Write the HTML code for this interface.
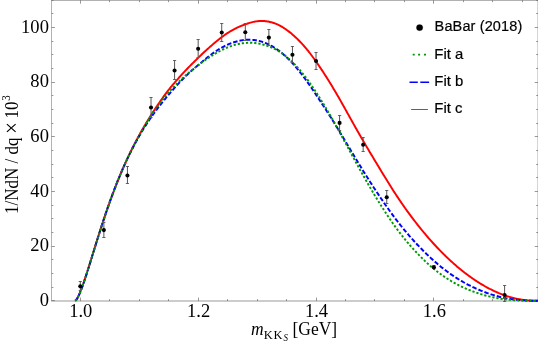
<!DOCTYPE html>
<html><head><meta charset="utf-8"><title>Chart</title>
<style>html,body{margin:0;padding:0;background:#fff;}body{width:538px;height:343px;overflow:hidden;font-family:"Liberation Serif",serif;}svg{display:block;}</style>
</head><body>
<svg width="538" height="343" viewBox="0 0 538 343">
<defs><clipPath id="c"><rect x="51" y="0" width="487" height="302.2"/></clipPath><mask id="m" maskUnits="userSpaceOnUse" x="0" y="0" width="538" height="343"><rect width="538" height="343" fill="#fff"/></mask></defs>
<rect width="538" height="343" fill="#fff"/>
<g stroke="#666" stroke-width="0.67" fill="none">
<path d="M51.5,0.28 L538.1,0.28 M51.5,301.0 L538.1,301.0 M538.1,-0.019999999999999962 L538.1,301.33"/>
<path d="M51.5,-0.019999999999999962 L51.5,301.33" stroke-width="0.5"/>
<path d="M51.5,300.50 h3.4 M538.1,300.50 h-3.4 M51.5,287.50 h1.9 M538.1,287.50 h-1.9 M51.5,273.50 h1.9 M538.1,273.50 h-1.9 M51.5,259.50 h1.9 M538.1,259.50 h-1.9 M51.5,246.50 h3.4 M538.1,246.50 h-3.4 M51.5,232.50 h1.9 M538.1,232.50 h-1.9 M51.5,218.50 h1.9 M538.1,218.50 h-1.9 M51.5,205.50 h1.9 M538.1,205.50 h-1.9 M51.5,191.50 h3.4 M538.1,191.50 h-3.4 M51.5,177.50 h1.9 M538.1,177.50 h-1.9 M51.5,164.50 h1.9 M538.1,164.50 h-1.9 M51.5,150.50 h1.9 M538.1,150.50 h-1.9 M51.5,136.50 h3.4 M538.1,136.50 h-3.4 M51.5,123.50 h1.9 M538.1,123.50 h-1.9 M51.5,109.50 h1.9 M538.1,109.50 h-1.9 M51.5,95.50 h1.9 M538.1,95.50 h-1.9 M51.5,82.50 h3.4 M538.1,82.50 h-3.4 M51.5,68.50 h1.9 M538.1,68.50 h-1.9 M51.5,54.50 h1.9 M538.1,54.50 h-1.9 M51.5,41.50 h1.9 M538.1,41.50 h-1.9 M51.5,27.50 h3.4 M538.1,27.50 h-3.4 M51.5,13.50 h1.9 M538.1,13.50 h-1.9 M51.5,0.50 h1.9 M538.1,0.50 h-1.9 M80.50,301.0 v-3.4 M80.50,0.28 v3.4 M109.50,301.0 v-1.9 M109.50,0.28 v1.9 M139.50,301.0 v-1.9 M139.50,0.28 v1.9 M168.50,301.0 v-1.9 M168.50,0.28 v1.9 M198.50,301.0 v-3.4 M198.50,0.28 v3.4 M227.50,301.0 v-1.9 M227.50,0.28 v1.9 M257.50,301.0 v-1.9 M257.50,0.28 v1.9 M286.50,301.0 v-1.9 M286.50,0.28 v1.9 M316.50,301.0 v-3.4 M316.50,0.28 v3.4 M345.50,301.0 v-1.9 M345.50,0.28 v1.9 M374.50,301.0 v-1.9 M374.50,0.28 v1.9 M404.50,301.0 v-1.9 M404.50,0.28 v1.9 M433.50,301.0 v-3.4 M433.50,0.28 v3.4 M463.50,301.0 v-1.9 M463.50,0.28 v1.9 M492.50,301.0 v-1.9 M492.50,0.28 v1.9 M522.50,301.0 v-1.9 M522.50,0.28 v1.9"/>
</g>
<g clip-path="url(#c)" fill="none" stroke-linecap="butt" stroke-linejoin="round">
<path d="M75.20,300.80 L76.13,300.05 L77.06,298.72 L77.98,297.05 L78.91,295.11 L79.84,292.97 L80.77,290.66 L81.70,288.22 L82.62,285.67 L83.55,283.02 L84.48,280.29 L85.41,277.50 L86.34,274.65 L87.26,271.76 L88.19,268.84 L89.12,265.89 L90.05,262.92 L90.98,259.93 L91.91,256.94 L92.83,253.95 L93.76,250.95 L94.69,247.96 L95.62,244.98 L96.55,242.01 L97.47,239.05 L98.40,236.11 L99.33,233.19 L100.26,230.29 L101.19,227.41 L102.11,224.56 L103.04,221.74 L103.97,218.94 L104.90,216.17 L105.83,213.43 L106.75,210.71 L107.68,208.03 L108.61,205.38 L109.54,202.76 L110.47,200.18 L111.39,197.62 L112.32,195.10 L113.25,192.61 L114.18,190.15 L115.11,187.72 L116.03,185.33 L116.96,182.97 L117.89,180.64 L118.82,178.35 L119.75,176.08 L120.67,173.85 L121.60,171.65 L122.53,169.48 L123.46,167.34 L124.39,165.23 L125.32,163.14 L126.24,161.09 L127.17,159.07 L128.10,157.08 L129.03,155.11 L129.96,153.17 L130.88,151.26 L131.81,149.37 L132.74,147.51 L133.67,145.68 L134.60,143.87 L135.52,142.08 L136.45,140.32 L137.38,138.59 L138.31,136.87 L139.24,135.18 L140.16,133.50 L141.09,131.85 L142.02,130.21 L142.95,128.59 L143.88,126.99 L144.80,125.41 L145.73,123.84 L146.66,122.28 L147.59,120.74 L148.52,119.22 L149.44,117.71 L150.37,116.22 L151.30,114.75 L152.23,113.29 L153.16,111.85 L154.08,110.43 L155.01,109.02 L155.94,107.62 L156.87,106.24 L157.80,104.87 L158.73,103.52 L159.65,102.18 L160.58,100.84 L161.51,99.52 L162.44,98.22 L163.37,96.92 L164.29,95.63 L165.22,94.36 L166.15,93.11 L167.08,91.88 L168.01,90.66 L168.93,89.48 L169.86,88.32 L170.79,87.18 L171.72,86.05 L172.65,84.95 L173.57,83.86 L174.50,82.77 L175.43,81.70 L176.36,80.63 L177.29,79.58 L178.21,78.53 L179.14,77.49 L180.07,76.46 L181.00,75.44 L181.93,74.43 L182.85,73.42 L183.78,72.42 L184.71,71.43 L185.64,70.45 L186.57,69.48 L187.49,68.51 L188.42,67.55 L189.35,66.60 L190.28,65.66 L191.21,64.73 L192.14,63.80 L193.06,62.87 L193.99,61.95 L194.92,61.04 L195.85,60.12 L196.78,59.21 L197.70,58.30 L198.63,57.39 L199.56,56.49 L200.49,55.60 L201.42,54.71 L202.34,53.82 L203.27,52.95 L204.20,52.08 L205.13,51.22 L206.06,50.37 L206.98,49.52 L207.91,48.69 L208.84,47.86 L209.77,47.04 L210.70,46.22 L211.62,45.41 L212.55,44.62 L213.48,43.83 L214.41,43.04 L215.34,42.26 L216.26,41.49 L217.19,40.72 L218.12,39.96 L219.05,39.21 L219.98,38.47 L220.90,37.74 L221.83,37.03 L222.76,36.35 L223.69,35.68 L224.62,35.03 L225.55,34.39 L226.47,33.78 L227.40,33.18 L228.33,32.59 L229.26,32.02 L230.19,31.46 L231.11,30.91 L232.04,30.38 L232.97,29.86 L233.90,29.35 L234.83,28.86 L235.75,28.38 L236.68,27.92 L237.61,27.47 L238.54,27.04 L239.47,26.63 L240.39,26.23 L241.32,25.85 L242.25,25.48 L243.18,25.13 L244.11,24.78 L245.03,24.44 L245.96,24.11 L246.89,23.79 L247.82,23.47 L248.75,23.17 L249.67,22.89 L250.60,22.62 L251.53,22.37 L252.46,22.14 L253.39,21.92 L254.31,21.73 L255.24,21.56 L256.17,21.41 L257.10,21.28 L258.03,21.17 L258.96,21.09 L259.88,21.03 L260.81,20.99 L261.74,20.98 L262.67,20.99 L263.60,21.03 L264.52,21.09 L265.45,21.18 L266.38,21.28 L267.31,21.42 L268.24,21.57 L269.16,21.75 L270.09,21.95 L271.02,22.18 L271.95,22.43 L272.88,22.71 L273.80,23.01 L274.73,23.33 L275.66,23.68 L276.59,24.06 L277.52,24.47 L278.44,24.90 L279.37,25.36 L280.30,25.85 L281.23,26.36 L282.16,26.91 L283.08,27.47 L284.01,28.07 L284.94,28.69 L285.87,29.33 L286.80,29.99 L287.72,30.67 L288.65,31.38 L289.58,32.11 L290.51,32.86 L291.44,33.62 L292.37,34.41 L293.29,35.22 L294.22,36.05 L295.15,36.91 L296.08,37.78 L297.01,38.67 L297.93,39.57 L298.86,40.50 L299.79,41.46 L300.72,42.43 L301.65,43.41 L302.57,44.42 L303.50,45.44 L304.43,46.49 L305.36,47.55 L306.29,48.64 L307.21,49.76 L308.14,50.90 L309.07,52.06 L310.00,53.25 L310.93,54.48 L311.85,55.73 L312.78,56.99 L313.71,58.27 L314.64,59.56 L315.57,60.87 L316.49,62.18 L317.42,63.51 L318.35,64.86 L319.28,66.22 L320.21,67.59 L321.13,68.98 L322.06,70.38 L322.99,71.79 L323.92,73.22 L324.85,74.67 L325.78,76.12 L326.70,77.59 L327.63,79.07 L328.56,80.56 L329.49,82.06 L330.42,83.56 L331.34,85.07 L332.27,86.59 L333.20,88.13 L334.13,89.67 L335.06,91.23 L335.98,92.81 L336.91,94.39 L337.84,96.00 L338.77,97.61 L339.70,99.23 L340.62,100.87 L341.55,102.51 L342.48,104.16 L343.41,105.81 L344.34,107.48 L345.26,109.14 L346.19,110.81 L347.12,112.48 L348.05,114.15 L348.98,115.81 L349.90,117.48 L350.83,119.15 L351.76,120.81 L352.69,122.47 L353.62,124.13 L354.54,125.77 L355.47,127.42 L356.40,129.06 L357.33,130.70 L358.26,132.32 L359.19,133.94 L360.11,135.56 L361.04,137.17 L361.97,138.77 L362.90,140.37 L363.83,141.96 L364.75,143.54 L365.68,145.12 L366.61,146.70 L367.54,148.27 L368.47,149.84 L369.39,151.40 L370.32,152.96 L371.25,154.52 L372.18,156.07 L373.11,157.62 L374.03,159.16 L374.96,160.71 L375.89,162.25 L376.82,163.78 L377.75,165.32 L378.67,166.85 L379.60,168.38 L380.53,169.91 L381.46,171.45 L382.39,172.97 L383.31,174.50 L384.24,176.02 L385.17,177.54 L386.10,179.05 L387.03,180.56 L387.95,182.06 L388.88,183.56 L389.81,185.05 L390.74,186.53 L391.67,188.00 L392.60,189.47 L393.52,190.92 L394.45,192.36 L395.38,193.79 L396.31,195.21 L397.24,196.62 L398.16,198.01 L399.09,199.39 L400.02,200.76 L400.95,202.12 L401.88,203.47 L402.80,204.81 L403.73,206.14 L404.66,207.45 L405.59,208.76 L406.52,210.06 L407.44,211.34 L408.37,212.62 L409.30,213.89 L410.23,215.14 L411.16,216.39 L412.08,217.63 L413.01,218.85 L413.94,220.07 L414.87,221.28 L415.80,222.48 L416.72,223.67 L417.65,224.85 L418.58,226.02 L419.51,227.19 L420.44,228.34 L421.36,229.49 L422.29,230.62 L423.22,231.75 L424.15,232.87 L425.08,233.97 L426.01,235.07 L426.93,236.16 L427.86,237.24 L428.79,238.30 L429.72,239.36 L430.65,240.41 L431.57,241.45 L432.50,242.48 L433.43,243.50 L434.36,244.51 L435.29,245.52 L436.21,246.51 L437.14,247.50 L438.07,248.47 L439.00,249.44 L439.93,250.40 L440.85,251.35 L441.78,252.29 L442.71,253.22 L443.64,254.14 L444.57,255.06 L445.49,255.96 L446.42,256.86 L447.35,257.75 L448.28,258.63 L449.21,259.50 L450.13,260.36 L451.06,261.21 L451.99,262.06 L452.92,262.89 L453.85,263.72 L454.77,264.54 L455.70,265.35 L456.63,266.15 L457.56,266.94 L458.49,267.73 L459.42,268.50 L460.34,269.26 L461.27,270.01 L462.20,270.75 L463.13,271.49 L464.06,272.21 L464.98,272.92 L465.91,273.63 L466.84,274.33 L467.77,275.02 L468.70,275.70 L469.62,276.37 L470.55,277.04 L471.48,277.70 L472.41,278.34 L473.34,278.98 L474.26,279.62 L475.19,280.24 L476.12,280.86 L477.05,281.46 L477.98,282.06 L478.90,282.65 L479.83,283.23 L480.76,283.80 L481.69,284.36 L482.62,284.91 L483.54,285.45 L484.47,285.99 L485.40,286.51 L486.33,287.03 L487.26,287.53 L488.18,288.03 L489.11,288.52 L490.04,289.00 L490.97,289.47 L491.90,289.93 L492.83,290.38 L493.75,290.83 L494.68,291.26 L495.61,291.69 L496.54,292.10 L497.47,292.51 L498.39,292.91 L499.32,293.29 L500.25,293.67 L501.18,294.04 L502.11,294.40 L503.03,294.75 L503.96,295.09 L504.89,295.42 L505.82,295.74 L506.75,296.05 L507.67,296.35 L508.60,296.64 L509.53,296.91 L510.46,297.18 L511.39,297.44 L512.31,297.69 L513.24,297.93 L514.17,298.16 L515.10,298.38 L516.03,298.59 L516.95,298.79 L517.88,298.97 L518.81,299.15 L519.74,299.32 L520.67,299.48 L521.59,299.63 L522.52,299.76 L523.45,299.89 L524.38,300.01 L525.31,300.12 L526.24,300.22 L527.16,300.32 L528.09,300.40 L529.02,300.47 L529.95,300.54 L530.88,300.60 L531.80,300.65 L532.73,300.69 L533.66,300.72 L534.59,300.75 L535.52,300.77 L536.44,300.79 L537.37,300.80 L538.30,300.80" stroke="#f00" stroke-width="1.95"/>
<path d="M75.20,300.80 L76.13,300.08 L77.06,298.78 L77.98,297.13 L78.91,295.23 L79.84,293.12 L80.77,290.84 L81.70,288.41 L82.62,285.87 L83.55,283.23 L84.48,280.51 L85.41,277.72 L86.34,274.86 L87.26,271.96 L88.19,269.02 L89.12,266.05 L90.05,263.06 L90.98,260.05 L91.91,257.03 L92.83,254.00 L93.76,250.98 L94.69,247.96 L95.62,244.94 L96.55,241.94 L97.47,238.95 L98.40,235.98 L99.33,233.03 L100.26,230.10 L101.19,227.19 L102.11,224.32 L103.04,221.47 L103.97,218.64 L104.90,215.85 L105.83,213.09 L106.75,210.37 L107.68,207.67 L108.61,205.02 L109.54,202.39 L110.47,199.80 L111.39,197.25 L112.32,194.73 L113.25,192.24 L114.18,189.79 L115.11,187.38 L116.03,185.00 L116.96,182.66 L117.89,180.36 L118.82,178.08 L119.75,175.85 L120.67,173.64 L121.60,171.48 L122.53,169.34 L123.46,167.24 L124.39,165.17 L125.32,163.13 L126.24,161.13 L127.17,159.15 L128.10,157.21 L129.03,155.30 L129.96,153.41 L130.88,151.56 L131.81,149.73 L132.74,147.93 L133.67,146.16 L134.60,144.41 L135.52,142.70 L136.45,141.00 L137.38,139.33 L138.31,137.69 L139.24,136.07 L140.16,134.48 L141.09,132.91 L142.02,131.36 L142.95,129.84 L143.88,128.34 L144.80,126.86 L145.73,125.41 L146.66,123.98 L147.59,122.56 L148.52,121.17 L149.44,119.80 L150.37,118.44 L151.30,117.10 L152.23,115.78 L153.16,114.47 L154.08,113.18 L155.01,111.91 L155.94,110.64 L156.87,109.40 L157.80,108.17 L158.73,106.95 L159.65,105.75 L160.58,104.56 L161.51,103.38 L162.44,102.22 L163.37,101.07 L164.29,99.93 L165.22,98.80 L166.15,97.68 L167.08,96.57 L168.01,95.46 L168.93,94.36 L169.86,93.27 L170.79,92.19 L171.72,91.12 L172.65,90.06 L173.57,89.01 L174.50,87.97 L175.43,86.94 L176.36,85.92 L177.29,84.92 L178.21,83.92 L179.14,82.94 L180.07,81.96 L181.00,81.00 L181.93,80.04 L182.85,79.10 L183.78,78.16 L184.71,77.23 L185.64,76.32 L186.57,75.41 L187.49,74.51 L188.42,73.62 L189.35,72.75 L190.28,71.89 L191.21,71.04 L192.14,70.20 L193.06,69.39 L193.99,68.59 L194.92,67.80 L195.85,67.02 L196.78,66.25 L197.70,65.49 L198.63,64.71 L199.56,63.94 L200.49,63.17 L201.42,62.41 L202.34,61.63 L203.27,60.86 L204.20,60.09 L205.13,59.33 L206.06,58.57 L206.98,57.82 L207.91,57.07 L208.84,56.34 L209.77,55.62 L210.70,54.91 L211.62,54.21 L212.55,53.53 L213.48,52.86 L214.41,52.21 L215.34,51.57 L216.26,50.94 L217.19,50.33 L218.12,49.74 L219.05,49.16 L219.98,48.60 L220.90,48.06 L221.83,47.53 L222.76,47.03 L223.69,46.54 L224.62,46.06 L225.55,45.61 L226.47,45.17 L227.40,44.75 L228.33,44.35 L229.26,43.96 L230.19,43.59 L231.11,43.24 L232.04,42.90 L232.97,42.58 L233.90,42.27 L234.83,41.98 L235.75,41.70 L236.68,41.45 L237.61,41.20 L238.54,40.98 L239.47,40.77 L240.39,40.58 L241.32,40.41 L242.25,40.25 L243.18,40.11 L244.11,40.00 L245.03,39.90 L245.96,39.82 L246.89,39.77 L247.82,39.73 L248.75,39.71 L249.67,39.72 L250.60,39.74 L251.53,39.78 L252.46,39.85 L253.39,39.93 L254.31,40.04 L255.24,40.17 L256.17,40.32 L257.10,40.49 L258.03,40.68 L258.96,40.89 L259.88,41.13 L260.81,41.38 L261.74,41.66 L262.67,41.96 L263.60,42.28 L264.52,42.63 L265.45,42.99 L266.38,43.38 L267.31,43.79 L268.24,44.22 L269.16,44.67 L270.09,45.15 L271.02,45.64 L271.95,46.16 L272.88,46.70 L273.80,47.26 L274.73,47.85 L275.66,48.46 L276.59,49.09 L277.52,49.74 L278.44,50.41 L279.37,51.10 L280.30,51.82 L281.23,52.56 L282.16,53.32 L283.08,54.10 L284.01,54.90 L284.94,55.73 L285.87,56.57 L286.80,57.44 L287.72,58.33 L288.65,59.24 L289.58,60.17 L290.51,61.13 L291.44,62.10 L292.37,63.10 L293.29,64.12 L294.22,65.16 L295.15,66.23 L296.08,67.31 L297.01,68.42 L297.93,69.54 L298.86,70.69 L299.79,71.86 L300.72,73.04 L301.65,74.25 L302.57,75.47 L303.50,76.70 L304.43,77.95 L305.36,79.22 L306.29,80.50 L307.21,81.79 L308.14,83.10 L309.07,84.42 L310.00,85.75 L310.93,87.10 L311.85,88.46 L312.78,89.82 L313.71,91.20 L314.64,92.59 L315.57,93.99 L316.49,95.39 L317.42,96.80 L318.35,98.21 L319.28,99.62 L320.21,101.03 L321.13,102.45 L322.06,103.87 L322.99,105.29 L323.92,106.72 L324.85,108.15 L325.78,109.58 L326.70,111.02 L327.63,112.47 L328.56,113.92 L329.49,115.38 L330.42,116.85 L331.34,118.32 L332.27,119.80 L333.20,121.29 L334.13,122.78 L335.06,124.28 L335.98,125.78 L336.91,127.29 L337.84,128.80 L338.77,130.33 L339.70,131.85 L340.62,133.38 L341.55,134.92 L342.48,136.46 L343.41,138.00 L344.34,139.55 L345.26,141.10 L346.19,142.65 L347.12,144.20 L348.05,145.76 L348.98,147.31 L349.90,148.87 L350.83,150.42 L351.76,151.98 L352.69,153.53 L353.62,155.09 L354.54,156.64 L355.47,158.19 L356.40,159.73 L357.33,161.27 L358.26,162.81 L359.19,164.34 L360.11,165.87 L361.04,167.38 L361.97,168.89 L362.90,170.40 L363.83,171.90 L364.75,173.38 L365.68,174.87 L366.61,176.34 L367.54,177.81 L368.47,179.27 L369.39,180.73 L370.32,182.18 L371.25,183.62 L372.18,185.06 L373.11,186.48 L374.03,187.91 L374.96,189.32 L375.89,190.73 L376.82,192.13 L377.75,193.52 L378.67,194.91 L379.60,196.29 L380.53,197.67 L381.46,199.04 L382.39,200.40 L383.31,201.75 L384.24,203.10 L385.17,204.44 L386.10,205.77 L387.03,207.09 L387.95,208.40 L388.88,209.70 L389.81,211.00 L390.74,212.29 L391.67,213.56 L392.60,214.83 L393.52,216.09 L394.45,217.33 L395.38,218.57 L396.31,219.80 L397.24,221.01 L398.16,222.22 L399.09,223.41 L400.02,224.59 L400.95,225.76 L401.88,226.91 L402.80,228.06 L403.73,229.19 L404.66,230.32 L405.59,231.43 L406.52,232.53 L407.44,233.62 L408.37,234.71 L409.30,235.78 L410.23,236.84 L411.16,237.89 L412.08,238.93 L413.01,239.96 L413.94,240.98 L414.87,241.99 L415.80,242.99 L416.72,243.98 L417.65,244.96 L418.58,245.93 L419.51,246.89 L420.44,247.85 L421.36,248.80 L422.29,249.75 L423.22,250.69 L424.15,251.62 L425.08,252.54 L426.01,253.45 L426.93,254.36 L427.86,255.25 L428.79,256.13 L429.72,257.00 L430.65,257.86 L431.57,258.71 L432.50,259.55 L433.43,260.38 L434.36,261.20 L435.29,262.01 L436.21,262.81 L437.14,263.60 L438.07,264.39 L439.00,265.16 L439.93,265.92 L440.85,266.67 L441.78,267.41 L442.71,268.14 L443.64,268.86 L444.57,269.58 L445.49,270.28 L446.42,270.97 L447.35,271.66 L448.28,272.34 L449.21,273.01 L450.13,273.68 L451.06,274.33 L451.99,274.98 L452.92,275.62 L453.85,276.25 L454.77,276.86 L455.70,277.47 L456.63,278.07 L457.56,278.66 L458.49,279.24 L459.42,279.81 L460.34,280.37 L461.27,280.92 L462.20,281.46 L463.13,282.00 L464.06,282.52 L464.98,283.04 L465.91,283.55 L466.84,284.05 L467.77,284.54 L468.70,285.02 L469.62,285.49 L470.55,285.96 L471.48,286.41 L472.41,286.85 L473.34,287.29 L474.26,287.72 L475.19,288.14 L476.12,288.55 L477.05,288.96 L477.98,289.36 L478.90,289.77 L479.83,290.16 L480.76,290.55 L481.69,290.93 L482.62,291.31 L483.54,291.67 L484.47,292.03 L485.40,292.38 L486.33,292.72 L487.26,293.06 L488.18,293.38 L489.11,293.70 L490.04,294.01 L490.97,294.32 L491.90,294.61 L492.83,294.90 L493.75,295.18 L494.68,295.46 L495.61,295.73 L496.54,295.99 L497.47,296.24 L498.39,296.49 L499.32,296.73 L500.25,296.97 L501.18,297.19 L502.11,297.41 L503.03,297.62 L503.96,297.82 L504.89,298.00 L505.82,298.18 L506.75,298.35 L507.67,298.52 L508.60,298.67 L509.53,298.82 L510.46,298.96 L511.39,299.10 L512.31,299.23 L513.24,299.35 L514.17,299.47 L515.10,299.58 L516.03,299.69 L516.95,299.79 L517.88,299.88 L518.81,299.97 L519.74,300.06 L520.67,300.14 L521.59,300.21 L522.52,300.28 L523.45,300.34 L524.38,300.40 L525.31,300.46 L526.24,300.51 L527.16,300.55 L528.09,300.60 L529.02,300.63 L529.95,300.67 L530.88,300.70 L531.80,300.72 L532.73,300.74 L533.66,300.76 L534.59,300.78 L535.52,300.79 L536.44,300.79 L537.37,300.80 L538.30,300.80" stroke="#00f" stroke-width="1.95" stroke-dasharray="4.5,2.0"/>
<path d="M75.20,300.80 L76.13,300.05 L77.06,298.70 L77.98,297.01 L78.91,295.06 L79.84,292.91 L80.77,290.59 L81.70,288.15 L82.62,285.59 L83.55,282.94 L84.48,280.21 L85.41,277.42 L86.34,274.58 L87.26,271.70 L88.19,268.78 L89.12,265.84 L90.05,262.88 L90.98,259.90 L91.91,256.92 L92.83,253.94 L93.76,250.95 L94.69,247.97 L95.62,245.00 L96.55,242.04 L97.47,239.09 L98.40,236.16 L99.33,233.25 L100.26,230.35 L101.19,227.48 L102.11,224.64 L103.04,221.81 L103.97,219.02 L104.90,216.25 L105.83,213.50 L106.75,210.79 L107.68,208.11 L108.61,205.45 L109.54,202.83 L110.47,200.24 L111.39,197.68 L112.32,195.15 L113.25,192.65 L114.18,190.19 L115.11,187.76 L116.03,185.36 L116.96,182.99 L117.89,180.65 L118.82,178.35 L119.75,176.08 L120.67,173.84 L121.60,171.63 L122.53,169.45 L123.46,167.30 L124.39,165.19 L125.32,163.11 L126.24,161.05 L127.17,159.03 L128.10,157.03 L129.03,155.07 L129.96,153.13 L130.88,151.23 L131.81,149.35 L132.74,147.50 L133.67,145.67 L134.60,143.88 L135.52,142.11 L136.45,140.36 L137.38,138.65 L138.31,136.95 L139.24,135.29 L140.16,133.64 L141.09,132.02 L142.02,130.41 L142.95,128.83 L143.88,127.27 L144.80,125.73 L145.73,124.21 L146.66,122.70 L147.59,121.22 L148.52,119.75 L149.44,118.30 L150.37,116.88 L151.30,115.47 L152.23,114.09 L153.16,112.72 L154.08,111.38 L155.01,110.05 L155.94,108.74 L156.87,107.44 L157.80,106.17 L158.73,104.90 L159.65,103.66 L160.58,102.43 L161.51,101.22 L162.44,100.02 L163.37,98.83 L164.29,97.66 L165.22,96.51 L166.15,95.38 L167.08,94.26 L168.01,93.17 L168.93,92.11 L169.86,91.06 L170.79,90.04 L171.72,89.03 L172.65,88.04 L173.57,87.07 L174.50,86.11 L175.43,85.16 L176.36,84.22 L177.29,83.30 L178.21,82.38 L179.14,81.48 L180.07,80.59 L181.00,79.71 L181.93,78.84 L182.85,77.98 L183.78,77.13 L184.71,76.29 L185.64,75.46 L186.57,74.65 L187.49,73.84 L188.42,73.04 L189.35,72.26 L190.28,71.48 L191.21,70.71 L192.14,69.95 L193.06,69.20 L193.99,68.46 L194.92,67.73 L195.85,67.00 L196.78,66.28 L197.70,65.57 L198.63,64.86 L199.56,64.16 L200.49,63.47 L201.42,62.79 L202.34,62.11 L203.27,61.44 L204.20,60.78 L205.13,60.13 L206.06,59.48 L206.98,58.85 L207.91,58.22 L208.84,57.61 L209.77,57.00 L210.70,56.40 L211.62,55.82 L212.55,55.24 L213.48,54.67 L214.41,54.11 L215.34,53.57 L216.26,53.03 L217.19,52.51 L218.12,51.99 L219.05,51.49 L219.98,51.00 L220.90,50.52 L221.83,50.05 L222.76,49.59 L223.69,49.15 L224.62,48.72 L225.55,48.30 L226.47,47.89 L227.40,47.50 L228.33,47.12 L229.26,46.76 L230.19,46.41 L231.11,46.08 L232.04,45.76 L232.97,45.46 L233.90,45.17 L234.83,44.90 L235.75,44.65 L236.68,44.41 L237.61,44.19 L238.54,43.99 L239.47,43.80 L240.39,43.62 L241.32,43.46 L242.25,43.32 L243.18,43.20 L244.11,43.09 L245.03,42.99 L245.96,42.92 L246.89,42.86 L247.82,42.81 L248.75,42.79 L249.67,42.78 L250.60,42.78 L251.53,42.81 L252.46,42.85 L253.39,42.91 L254.31,42.98 L255.24,43.08 L256.17,43.19 L257.10,43.32 L258.03,43.46 L258.96,43.63 L259.88,43.81 L260.81,44.01 L261.74,44.22 L262.67,44.45 L263.60,44.70 L264.52,44.96 L265.45,45.24 L266.38,45.53 L267.31,45.83 L268.24,46.16 L269.16,46.49 L270.09,46.85 L271.02,47.23 L271.95,47.62 L272.88,48.04 L273.80,48.48 L274.73,48.94 L275.66,49.42 L276.59,49.92 L277.52,50.45 L278.44,51.01 L279.37,51.58 L280.30,52.18 L281.23,52.81 L282.16,53.45 L283.08,54.12 L284.01,54.82 L284.94,55.53 L285.87,56.27 L286.80,57.03 L287.72,57.81 L288.65,58.62 L289.58,59.44 L290.51,60.29 L291.44,61.16 L292.37,62.05 L293.29,62.96 L294.22,63.89 L295.15,64.85 L296.08,65.82 L297.01,66.82 L297.93,67.85 L298.86,68.90 L299.79,69.97 L300.72,71.08 L301.65,72.20 L302.57,73.35 L303.50,74.51 L304.43,75.71 L305.36,76.92 L306.29,78.15 L307.21,79.40 L308.14,80.67 L309.07,81.96 L310.00,83.27 L310.93,84.59 L311.85,85.93 L312.78,87.29 L313.71,88.66 L314.64,90.05 L315.57,91.46 L316.49,92.88 L317.42,94.31 L318.35,95.76 L319.28,97.23 L320.21,98.71 L321.13,100.20 L322.06,101.71 L322.99,103.23 L323.92,104.76 L324.85,106.30 L325.78,107.86 L326.70,109.43 L327.63,111.01 L328.56,112.60 L329.49,114.20 L330.42,115.81 L331.34,117.43 L332.27,119.06 L333.20,120.69 L334.13,122.34 L335.06,124.00 L335.98,125.66 L336.91,127.33 L337.84,129.01 L338.77,130.69 L339.70,132.39 L340.62,134.08 L341.55,135.79 L342.48,137.49 L343.41,139.21 L344.34,140.92 L345.26,142.64 L346.19,144.36 L347.12,146.08 L348.05,147.80 L348.98,149.52 L349.90,151.24 L350.83,152.96 L351.76,154.68 L352.69,156.40 L353.62,158.12 L354.54,159.83 L355.47,161.53 L356.40,163.24 L357.33,164.93 L358.26,166.62 L359.19,168.31 L360.11,169.98 L361.04,171.65 L361.97,173.31 L362.90,174.96 L363.83,176.60 L364.75,178.24 L365.68,179.86 L366.61,181.48 L367.54,183.10 L368.47,184.70 L369.39,186.29 L370.32,187.88 L371.25,189.46 L372.18,191.03 L373.11,192.58 L374.03,194.14 L374.96,195.68 L375.89,197.21 L376.82,198.73 L377.75,200.24 L378.67,201.74 L379.60,203.24 L380.53,204.72 L381.46,206.19 L382.39,207.65 L383.31,209.10 L384.24,210.54 L385.17,211.97 L386.10,213.38 L387.03,214.79 L387.95,216.18 L388.88,217.56 L389.81,218.93 L390.74,220.28 L391.67,221.62 L392.60,222.95 L393.52,224.27 L394.45,225.57 L395.38,226.86 L396.31,228.13 L397.24,229.39 L398.16,230.64 L399.09,231.87 L400.02,233.09 L400.95,234.29 L401.88,235.48 L402.80,236.65 L403.73,237.82 L404.66,238.97 L405.59,240.10 L406.52,241.22 L407.44,242.33 L408.37,243.43 L409.30,244.51 L410.23,245.58 L411.16,246.64 L412.08,247.68 L413.01,248.71 L413.94,249.72 L414.87,250.73 L415.80,251.72 L416.72,252.70 L417.65,253.68 L418.58,254.64 L419.51,255.60 L420.44,256.55 L421.36,257.49 L422.29,258.41 L423.22,259.32 L424.15,260.22 L425.08,261.11 L426.01,261.98 L426.93,262.84 L427.86,263.68 L428.79,264.52 L429.72,265.34 L430.65,266.15 L431.57,266.95 L432.50,267.73 L433.43,268.51 L434.36,269.27 L435.29,270.02 L436.21,270.76 L437.14,271.48 L438.07,272.20 L439.00,272.90 L439.93,273.59 L440.85,274.27 L441.78,274.94 L442.71,275.60 L443.64,276.25 L444.57,276.88 L445.49,277.50 L446.42,278.11 L447.35,278.71 L448.28,279.30 L449.21,279.88 L450.13,280.45 L451.06,281.01 L451.99,281.56 L452.92,282.10 L453.85,282.62 L454.77,283.14 L455.70,283.65 L456.63,284.15 L457.56,284.64 L458.49,285.12 L459.42,285.59 L460.34,286.05 L461.27,286.51 L462.20,286.95 L463.13,287.38 L464.06,287.81 L464.98,288.23 L465.91,288.63 L466.84,289.03 L467.77,289.42 L468.70,289.80 L469.62,290.17 L470.55,290.53 L471.48,290.89 L472.41,291.23 L473.34,291.57 L474.26,291.91 L475.19,292.24 L476.12,292.57 L477.05,292.90 L477.98,293.21 L478.90,293.52 L479.83,293.82 L480.76,294.11 L481.69,294.40 L482.62,294.68 L483.54,294.95 L484.47,295.21 L485.40,295.46 L486.33,295.71 L487.26,295.95 L488.18,296.19 L489.11,296.42 L490.04,296.64 L490.97,296.85 L491.90,297.06 L492.83,297.26 L493.75,297.46 L494.68,297.65 L495.61,297.83 L496.54,298.01 L497.47,298.18 L498.39,298.35 L499.32,298.51 L500.25,298.67 L501.18,298.81 L502.11,298.95 L503.03,299.08 L503.96,299.20 L504.89,299.32 L505.82,299.43 L506.75,299.53 L507.67,299.63 L508.60,299.72 L509.53,299.81 L510.46,299.89 L511.39,299.97 L512.31,300.04 L513.24,300.11 L514.17,300.17 L515.10,300.23 L516.03,300.29 L516.95,300.34 L517.88,300.39 L518.81,300.44 L519.74,300.48 L520.67,300.52 L521.59,300.55 L522.52,300.59 L523.45,300.62 L524.38,300.64 L525.31,300.67 L526.24,300.69 L527.16,300.71 L528.09,300.73 L529.02,300.74 L529.95,300.75 L530.88,300.76 L531.80,300.77 L532.73,300.78 L533.66,300.79 L534.59,300.79 L535.52,300.80 L536.44,300.80 L537.37,300.80 L538.30,300.80" stroke="#009a00" stroke-width="1.95" stroke-dasharray="2.25,1.9"/>
<path d="M78.7,281.5 h3.2 M78.7,290.5 h3.2 M102.27000000000001,222.5 h3.2 M102.27000000000001,237.5 h3.2 M125.84,166.5 h3.2 M125.84,183.5 h3.2 M149.42000000000002,97.5 h3.2 M149.42000000000002,117.5 h3.2 M172.99,60.5 h3.2 M172.99,79.5 h3.2 M196.56,39.5 h3.2 M196.56,57.5 h3.2 M220.13,23.5 h3.2 M220.13,41.5 h3.2 M243.70000000000002,23.5 h3.2 M243.70000000000002,40.5 h3.2 M267.28,29.5 h3.2 M267.28,45.5 h3.2 M290.84999999999997,46.5 h3.2 M290.84999999999997,62.5 h3.2 M314.41999999999996,52.5 h3.2 M314.41999999999996,69.5 h3.2 M337.98999999999995,115.5 h3.2 M337.98999999999995,130.5 h3.2 M361.56,137.5 h3.2 M361.56,151.5 h3.2 M385.14,190.5 h3.2 M385.14,203.5 h3.2 M432.28,265.5 h3.2 M432.28,268.5 h3.2 M503.0,285.5 h3.2 M503.0,301.5 h3.2" stroke="#6a6a6a" stroke-width="1"/>
<path d="M80.3,281.0 V291.0 M103.87,222.0 V238.0 M127.44,166.0 V184.0 M151.02,97.0 V118.0 M174.59,60.0 V80.0 M198.16,39.0 V58.0 M221.73,23.0 V42.0 M245.3,23.0 V41.0 M268.88,29.0 V46.0 M292.45,46.0 V63.0 M316.02,52.0 V70.0 M339.59,115.0 V131.0 M363.16,137.0 V152.0 M386.74,190.0 V204.0 M433.88,265.0 V269.0 M504.6,285.0 V302.0" stroke="#555" stroke-width="1"/>
<circle cx="80.30" cy="286.20" r="2.05" fill="#000" stroke="none"/>
<circle cx="103.87" cy="230.10" r="2.05" fill="#000" stroke="none"/>
<circle cx="127.44" cy="175.50" r="2.05" fill="#000" stroke="none"/>
<circle cx="151.02" cy="107.45" r="2.05" fill="#000" stroke="none"/>
<circle cx="174.59" cy="70.55" r="2.05" fill="#000" stroke="none"/>
<circle cx="198.16" cy="48.70" r="2.05" fill="#000" stroke="none"/>
<circle cx="221.73" cy="32.55" r="2.05" fill="#000" stroke="none"/>
<circle cx="245.30" cy="32.20" r="2.05" fill="#000" stroke="none"/>
<circle cx="268.88" cy="37.60" r="2.05" fill="#000" stroke="none"/>
<circle cx="292.45" cy="54.70" r="2.05" fill="#000" stroke="none"/>
<circle cx="316.02" cy="61.05" r="2.05" fill="#000" stroke="none"/>
<circle cx="339.59" cy="122.90" r="2.05" fill="#000" stroke="none"/>
<circle cx="363.16" cy="144.70" r="2.05" fill="#000" stroke="none"/>
<circle cx="386.74" cy="197.25" r="2.05" fill="#000" stroke="none"/>
<circle cx="433.88" cy="267.35" r="2.05" fill="#000" stroke="none"/>
<circle cx="504.60" cy="295.00" r="2.05" fill="#000" stroke="none"/>
</g>
<g font-family="Liberation Serif, serif" font-size="18px" fill="#000" mask="url(#m)">
<text transform="translate(48.9,306.20) scale(1.03,1.06)" text-anchor="end">0</text>
<text transform="translate(48.9,251.49) scale(1.03,1.06)" text-anchor="end">20</text>
<text transform="translate(48.9,196.79) scale(1.03,1.06)" text-anchor="end">40</text>
<text transform="translate(48.9,142.08) scale(1.03,1.06)" text-anchor="end">60</text>
<text transform="translate(48.9,87.38) scale(1.03,1.06)" text-anchor="end">80</text>
<text transform="translate(48.9,32.67) scale(1.03,1.06)" text-anchor="end">100</text>
<text transform="translate(80.80,317) scale(1.03,1.06)" text-anchor="middle">1.0</text>
<text transform="translate(198.66,317) scale(1.03,1.06)" text-anchor="middle">1.2</text>
<text transform="translate(316.52,317) scale(1.03,1.06)" text-anchor="middle">1.4</text>
<text transform="translate(434.38,317) scale(1.03,1.06)" text-anchor="middle">1.6</text>
<text transform="translate(251,334.6) scale(1,1.06)" font-size="17.5px"><tspan font-style="italic">m</tspan><tspan font-size="12.5px" dy="4.0" letter-spacing="0.75">KK</tspan><tspan font-size="9px" font-style="italic" dy="2.0" dx="0.2">S</tspan><tspan dy="-6.0" dx="0.2"> [GeV]</tspan></text>
<g transform="translate(18,214) rotate(-90) scale(1,1.06)" font-size="17px"><text x="0" y="0">1/NdN / dq <tspan font-size="21px" dx="-0.6" dy="0.6">×</tspan><tspan dx="-0.6" dy="-0.6"> 10</tspan><tspan font-size="11px" dy="-7.5" dx="0.6">3</tspan></text></g>
</g>
<g font-family="Liberation Sans, sans-serif" font-size="14px" fill="#000" stroke="#000" stroke-width="0.2" mask="url(#m)">
<circle cx="419.6" cy="27.6" r="3.2" fill="#000"/>
<text transform="translate(434.6,31.25) scale(1,1.06)" font-size="14.5px" letter-spacing="0.13">BaBar (2018)</text>
<text transform="translate(434.3,59.1) scale(1,1.035)" font-size="14.9px">Fit a</text>
<text transform="translate(434.3,86.3) scale(1,1.035)" font-size="14.9px">Fit b</text>
<text transform="translate(434.3,113.45) scale(1,1.035)" font-size="14.9px">Fit c</text>
<path d="M412.7,54.6 h2 M418.1,54.6 h2 M424,54.6 h2" stroke="#009a00" stroke-width="1.7" fill="none"/>
<path d="M409.5,82.3 h8.3 M420.3,82.3 h8.8" stroke="#00f" stroke-width="1.4" fill="none"/>
<path d="M411.1,109.5 H427.9" stroke="#f00" stroke-width="0.88" fill="none"/>
</g>
</svg>
</body></html>
